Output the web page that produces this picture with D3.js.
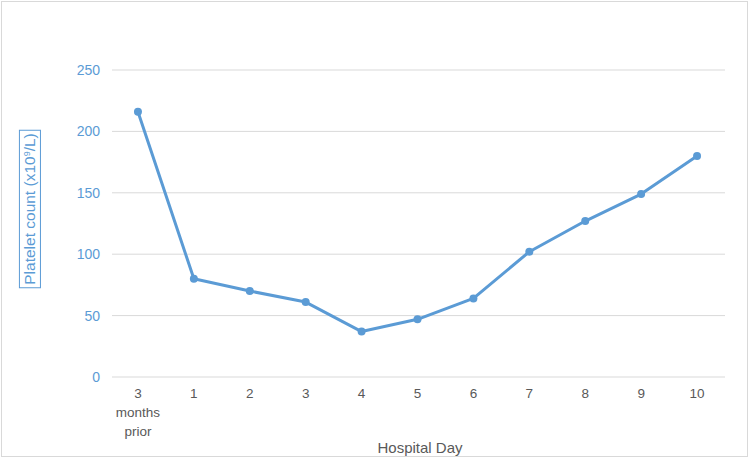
<!DOCTYPE html>
<html><head><meta charset="utf-8">
<script src="https://cdn.jsdelivr.net/npm/d3@7"></script>
<style>body{margin:0;background:#fff;font-family:"Liberation Sans",Arial,sans-serif;}</style>
</head><body>
<svg id="c" width="750" height="459"></svg>
<script>
const categories = ["3|months|prior","1","2","3","4","5","6","7","8","9","10"];
const values = [216, 80, 70, 61, 37, 47, 64, 102, 127, 149, 180];
const yTicks = [0, 50, 100, 150, 200, 250];

const svg = d3.select("#c");
svg.append("rect").attr("x",1.5).attr("y",1.5).attr("width",746).attr("height",455)
  .attr("fill","#fff").attr("stroke","#d9d9d9");

const x = d3.scaleBand().domain(d3.range(categories.length)).range([110,725]);
const y = d3.scaleLinear().domain([0,250]).range([377,70]);
const blue = "#5b9bd5";

// grid
svg.append("g").selectAll("line").data(yTicks).join("line")
  .attr("x1",112).attr("x2",725).attr("y1",d=>y(d)).attr("y2",d=>y(d))
  .attr("stroke","#d9d9d9").attr("stroke-width",1);

// y axis labels
const yAxis = d3.axisLeft(y).tickValues(yTicks).tickSize(0).tickPadding(0);
const ga = svg.append("g").attr("transform","translate(100,0)").call(yAxis);
ga.select(".domain").remove();
ga.selectAll("text").attr("fill",blue).attr("font-size",14).attr("font-family","Liberation Sans, Arial, sans-serif");

// x labels
const xl = svg.append("g").selectAll("text").data(categories).join("text")
  .attr("x",(d,i)=>x(i)+x.bandwidth()/2).attr("y",398)
  .attr("text-anchor","middle").attr("fill","#595959").attr("font-size",13.5);
xl.each(function(d){
  const parts = d.split("|");
  const t = d3.select(this);
  parts.forEach((p,j)=>t.append("tspan").attr("x",t.attr("x")).attr("dy",j?19:0).text(p));
});

svg.append("text").attr("x",420).attr("y",453).attr("text-anchor","middle")
  .attr("fill","#595959").attr("font-size",15).text("Hospital Day");

// y title
const yt = svg.append("g").attr("transform","translate(30,209) rotate(-90)");
const ytt = yt.append("text").attr("text-anchor","middle").attr("dy","0.35em")
  .attr("fill",blue).attr("font-size",15.5);
ytt.append("tspan").text("Platelet count (x10");
ytt.append("tspan").attr("font-size",9).attr("dy","-0.6em").text("9");
ytt.append("tspan").attr("dy","0.35em").text("/L)");
const bb = ytt.node().getBBox();
yt.insert("rect","text").attr("x",bb.x-3).attr("y",bb.y-2).attr("width",bb.width+6).attr("height",bb.height+4)
  .attr("fill","none").attr("stroke",blue).attr("stroke-width",1);

// line
const line = d3.line().x((d,i)=>x(i)+x.bandwidth()/2).y(d=>y(d));
svg.append("path").datum(values).attr("d",line).attr("fill","none")
  .attr("stroke",blue).attr("stroke-width",3).attr("stroke-linejoin","round");
svg.append("g").selectAll("circle").data(values).join("circle")
  .attr("cx",(d,i)=>x(i)+x.bandwidth()/2).attr("cy",d=>y(d)).attr("r",4).attr("fill",blue);
</script>
</body></html>
